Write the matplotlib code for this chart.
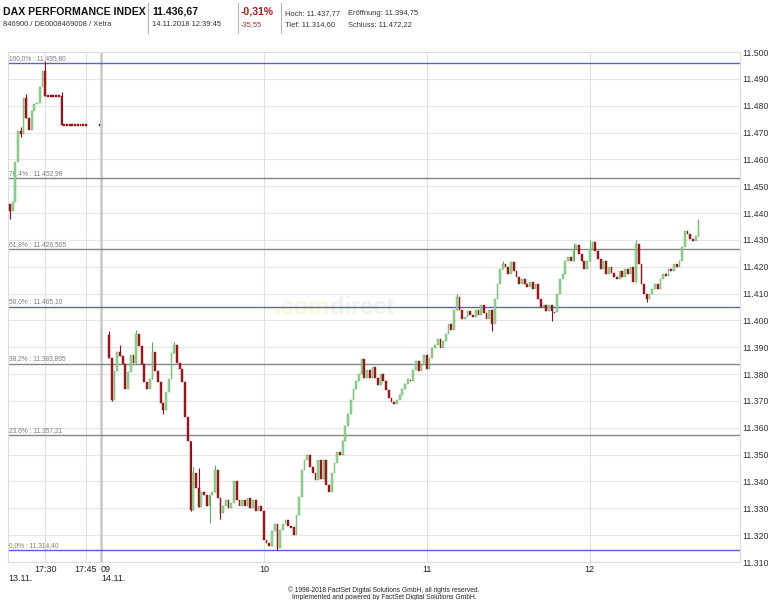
"""
DAX intraday candlestick chart (13./14.11.2018) with Fibonacci retracement lines,
styled like the comdirect / FactSet chart.
"""

import numpy as np
import matplotlib.pyplot as plt
from matplotlib.ticker import FuncFormatter

plt.rcParams["font.family"] = ["Liberation Sans", "DejaVu Sans"]

# ---------------------------------------------------------------- data
# 13.11. after-hours, 1-minute candles from 17:17 (open = previous close)
day13_first_time = "17:17"
day13_first_open = 11443.3
day13_close = [
    11440.7, 11444.0, 11459.0, 11470.5, 11469.5, 11483.0, 11475.5, 11471.0,
    11478.0, 11480.5, 11481.0, 11487.0, 11493.0, 11483.6, 11483.6, 11483.6,
    11483.6, 11483.6, 11483.6, 11472.8, 11472.8, 11472.8, 11472.8, 11472.8,
    11472.8, 11472.8, 11472.8, 11472.8, 11472.8,
]
day13_late_time = "17:50"
day13_late_close = 11472.8
day13_high = {"17:21": 11472.0, "17:23": 11484.5, "17:30": 11496.6, "17:36": 11485.0}
day13_low = {"17:17": 11437.7, "17:21": 11468.5}

# 14.11., 1-minute candles from 09:03 (open = previous close)
day14_first_time = "09:03"
day14_open = 11394.75
day14_close = [
    11386.0, 11370.5, 11381.0, 11388.4, 11386.6, 11383.6, 11374.3, 11380.6, 11387.3, 11384.0,
    11394.8, 11390.3, 11383.6, 11377.0, 11374.3, 11378.0, 11388.4, 11381.0, 11376.9, 11369.4,
    11366.8, 11373.5, 11378.0, 11388.0, 11391.0, 11384.0, 11382.0, 11376.9, 11364.0, 11355.0,
    11329.5, 11343.3, 11337.7, 11330.6, 11336.0, 11335.0, 11331.0, 11335.0, 11336.0, 11344.4,
    11334.0, 11328.4, 11331.0, 11333.0, 11330.0, 11332.0, 11340.0, 11333.0, 11331.0, 11333.0,
    11331.0, 11334.0, 11330.0, 11333.0, 11329.0, 11331.0, 11329.0, 11318.3, 11317.0, 11316.0,
    11321.4, 11324.0, 11315.3, 11322.0, 11324.0, 11325.6, 11323.3, 11323.0, 11320.0, 11327.6,
    11334.3, 11344.4, 11348.1, 11350.0, 11345.5, 11343.0, 11340.5, 11348.0, 11341.0, 11348.0,
    11338.6, 11336.0, 11343.0, 11347.0, 11351.0, 11350.0, 11355.0, 11360.5, 11365.0, 11370.5,
    11374.6, 11377.6, 11380.0, 11385.5, 11378.7, 11381.7, 11378.7, 11382.5, 11378.7, 11376.0,
    11380.0, 11377.6, 11374.0, 11371.0, 11369.5, 11368.7, 11370.5, 11372.4, 11374.3, 11376.2,
    11378.0, 11377.6, 11381.7, 11384.7, 11381.0, 11383.5, 11387.3, 11382.0, 11386.0, 11389.9,
    11391.0, 11392.9, 11389.9, 11392.2, 11394.8, 11398.5, 11396.6, 11404.0, 11408.6, 11404.0,
    11400.4, 11401.1, 11403.4, 11402.2, 11401.1, 11404.0, 11402.2, 11405.9, 11402.9, 11400.4,
    11404.0, 11398.5, 11407.8, 11413.4, 11419.0, 11420.9, 11419.8, 11417.2, 11421.6, 11418.3,
    11416.0, 11413.4, 11415.3, 11413.4, 11412.3, 11414.2, 11411.6, 11413.4, 11407.8, 11404.9,
    11405.9, 11403.4, 11405.9, 11403.4, 11403.0, 11409.7, 11415.3, 11417.2, 11422.0, 11423.5,
    11422.0, 11426.5, 11428.0, 11424.6, 11422.0, 11419.0, 11422.0, 11426.5, 11429.1, 11425.7,
    11422.7, 11419.0, 11422.0, 11417.2, 11419.8, 11417.5, 11416.0, 11415.3, 11418.3, 11416.0,
    11419.0, 11417.2, 11419.8, 11414.2, 11428.4, 11421.0, 11413.4, 11409.7, 11407.8, 11409.7,
    11411.6, 11413.4, 11411.6, 11415.3, 11417.2, 11416.5, 11419.0, 11418.3, 11421.0, 11420.0,
    11422.0, 11427.2, 11433.2, 11432.1, 11430.2, 11429.5, 11431.4, 11436.7,
]
day14_high = {
    "09:03": 11396.0, "09:07": 11391.0, "09:13": 11396.6, "09:19": 11391.8,
    "09:27": 11392.0, "09:34": 11345.5, "09:36": 11345.0, "09:42": 11346.0,
    "11:11": 11409.7, "11:28": 11422.0, "11:54": 11429.0, "12:00": 11430.0,
    "12:17": 11430.0, "12:40": 11437.8,
}
day14_low = {
    "09:04": 11369.8, "09:23": 11365.0, "09:33": 11329.0, "09:40": 11324.6,
    "09:44": 11326.0, "10:05": 11314.6, "11:24": 11396.0, "11:46": 11399.6,
    "12:21": 11406.9,
}

fib_values = [11495.80, 11452.99, 11426.505, 11405.10, 11383.895, 11357.21, 11314.40]
fib_labels = ["100,0% : 11.495,80", "76,4% : 11.452,99", "61,8% : 11.426,505",
              "50,0% : 11.405,10", "38,2% : 11.383,895", "23,6% : 11.357,21",
              "0,0% : 11.314,40"]
fib_blue = [True, False, False, True, False, False, True]

y_ticks = np.arange(11310, 11501, 10)
x_tick_times13 = ["17:30", "17:45"]
x_tick_times14 = ["09:00", "10:00", "11:00", "12:00"]
x_tick_labels14 = ["09", "10", "11", "12"]

# ---------------------------------------------------------------- layout helpers
GAP = 5.5  # minutes of blank space between 17:45 and 09:00
GREEN_FACE = "#95d695"
GREEN_EDGE = "#5aae5a"
RED_FACE = "#a8141c"
RED_EDGE = "#8e0d12"


def minutes(hhmm):
    h, m = hhmm.split(":")
    return int(h) * 60 + int(m)


def pos13(t):
    return minutes(t) - minutes("17:45") - GAP


def pos14(t):
    return minutes(t) - minutes("09:00")


def build(first_open, closes, first_pos):
    closes = np.array(closes)
    opens = np.concatenate([[first_open], closes[:-1]])
    pos = first_pos + np.arange(len(closes))
    return pos, opens, closes


def draw_candles(ax, pos, opens, closes, highs, lows):
    up = closes > opens
    face = np.where(up, GREEN_FACE, RED_FACE)
    edge = np.where(up, GREEN_EDGE, RED_EDGE)
    top = np.maximum(opens, closes)
    bot = np.minimum(opens, closes)
    wick = (highs > top) | (lows < bot)
    ax.vlines(pos[wick], lows[wick], highs[wick], colors=edge[wick], lw=0.8, zorder=3)
    height = np.maximum(top - bot, 0.45)
    bottom = np.where(top - bot < 0.45, bot - 0.22, bot)
    ax.bar(pos, height, bottom=bottom, width=0.66, color=face,
           edgecolor=edge, linewidth=0.3, zorder=4)


# ---------------------------------------------------------------- figure
fig = plt.figure(figsize=(7.68, 6.0), dpi=100)
ax = fig.add_axes([8 / 768, 1 - 562 / 600, 732 / 768, 510 / 600])

# watermark
ax.text(0.44, 0.5, ".com", transform=ax.transAxes, ha="right", va="center",
        fontsize=17, fontweight="bold", color="#fcf5d6", zorder=1)
ax.text(0.44, 0.5, "direct", transform=ax.transAxes, ha="left", va="center",
        fontsize=17, fontweight="bold", color="#f1f1f1", zorder=1)

# grid
for v in y_ticks:
    ax.axhline(v, color="#e6e6e6", lw=0.8, zorder=0)
for t in x_tick_times13:
    ax.axvline(pos13(t), color="#e0e0e0", lw=0.8, zorder=0)
for t in x_tick_times14[1:]:
    ax.axvline(pos14(t), color="#e0e0e0", lw=0.8, zorder=0)
ax.axvline(pos14("09:00"), color="#c8c8c8", lw=1.8, zorder=0)

# fibonacci retracement lines
for val, lab, blue in zip(fib_values, fib_labels, fib_blue):
    ax.axhline(val, color="#5b5be3" if blue else "#858585", lw=1.0, zorder=2)
    ax.text(0.002, val + 0.5, lab, transform=ax.get_yaxis_transform(),
            fontsize=4.8, color="#7a7a7a", ha="left", va="bottom", zorder=2)

# candles 13.11.
p, o, c = build(day13_first_open, day13_close, pos13(day13_first_time))
hi, lo = np.maximum(o, c), np.minimum(o, c)
for t, v in day13_high.items():
    hi[int(round(pos13(t) - p[0]))] = v
for t, v in day13_low.items():
    lo[int(round(pos13(t) - p[0]))] = v
draw_candles(ax, p, o, c, hi, lo)
late = np.array([day13_late_close])
draw_candles(ax, np.array([pos13(day13_late_time)]), late, late, late, late)

# candles 14.11.
p, o, c = build(day14_open, day14_close, pos14(day14_first_time))
hi, lo = np.maximum(o, c), np.minimum(o, c)
for t, v in day14_high.items():
    i = int(round(pos14(t) - p[0]))
    if i < len(hi):
        hi[i] = v
for t, v in day14_low.items():
    lo[int(round(pos14(t) - p[0]))] = v
draw_candles(ax, p, o, c, hi, lo)

# axes
ax.set_xlim(-34.2, 235.3)
ax.set_ylim(11310, 11500)
ax.yaxis.tick_right()
ax.set_yticks(y_ticks)
ax.yaxis.set_major_formatter(FuncFormatter(lambda v, _: f"{v:,.0f}".replace(",", ".")))
ax.tick_params(axis="y", length=0, pad=2, labelsize=6.3, labelcolor="#333333")
ax.set_xticks([])
for side in ["left", "right", "top", "bottom"]:
    ax.spines[side].set_color("#dcdcdc")
    ax.spines[side].set_linewidth(0.8)

xlab = dict(xycoords=("data", "axes fraction"), textcoords="offset points",
            fontsize=6.5, color="#222222", va="top")
for t in x_tick_times13:
    ax.annotate(t, xy=(pos13(t), 0), xytext=(0, -2.5), ha="center", **xlab)
for t, lab in zip(x_tick_times14, x_tick_labels14):
    ax.annotate(lab, xy=(pos14(t), 0), xytext=(0, -2.5),
                ha="left" if lab == "09" else "center", **xlab)
ax.annotate("13.11.", xy=(0, 0), xycoords="axes fraction", xytext=(0, -8.5),
            textcoords="offset points", fontsize=6.5, color="#222222", va="top")
ax.annotate("14.11.", xy=(pos14("09:00"), 0), xytext=(0, -8.5), ha="left", **xlab)

# header
def ftext(x, y, s, **kw):
    fig.text(x / 768, 1 - y / 600, s, va="baseline", **kw)


ftext(3, 15, "DAX PERFORMANCE INDEX", fontsize=7.6, fontweight="bold", color="#111111")
ftext(3, 26.5, "846900 / DE0008469008 / Xetra", fontsize=5.4, color="#333333")
ftext(152, 15, "11.436,67", fontsize=7.6, fontweight="bold", color="#111111")
ftext(152, 26.5, "14.11.2018 12:39:45", fontsize=5.4, color="#333333")
ftext(241, 15, "-0,31%", fontsize=7.6, fontweight="bold", color="#a82020")
ftext(241, 26.5, "-35,55", fontsize=5.4, color="#b83030")
ftext(285, 15, "Hoch: 11.437,77", fontsize=5.4, color="#333333")
ftext(348, 15, "Eröffnung: 11.394,75", fontsize=5.4, color="#333333")
ftext(285, 26.5, "Tief: 11.314,60", fontsize=5.4, color="#333333")
ftext(348, 26.5, "Schluss: 11.472,22", fontsize=5.4, color="#333333")
for xs in [148, 238, 281]:
    fig.add_artist(plt.Line2D([xs / 768, xs / 768], [1 - 3 / 600, 1 - 33 / 600],
                              color="#b4b4b4", lw=0.8))

# footer
ftext(384, 592, "© 1998-2018 FactSet Digital Solutions GmbH, all rights reserved.",
      fontsize=4.8, color="#222222", ha="center")
ftext(384, 599, "Implemented and powered by FactSet Digital Solutions GmbH.",
      fontsize=4.8, color="#222222", ha="center")

fig.savefig("out.png", dpi=100)
